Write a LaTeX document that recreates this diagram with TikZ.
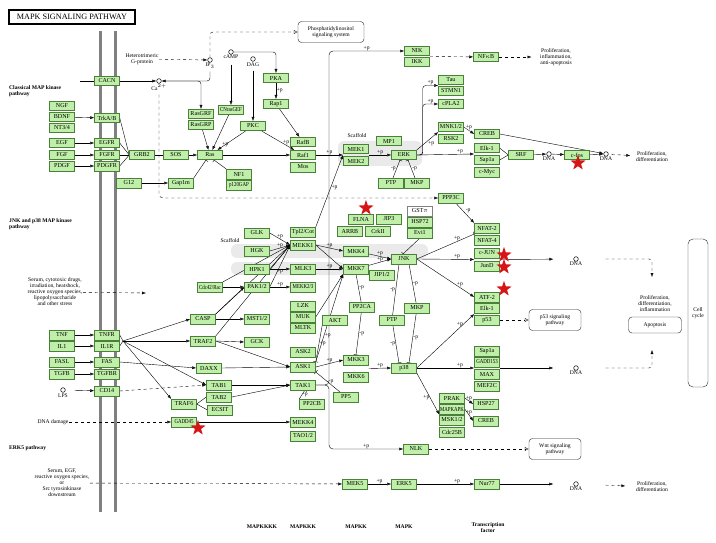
\documentclass[tikz,border=0pt]{standalone}
\usepackage{fontspec}
\setmainfont{Liberation Serif}
\usepackage{graphicx}
\usetikzlibrary{arrows.meta, calc, positioning, shapes.geometric}
\definecolor{GeneFill}{RGB}{191,239,168}
\definecolor{GeneLine}{RGB}{74,128,58}
\definecolor{MembraneGray}{RGB}{128,128,128}
\definecolor{ScaffoldGray}{RGB}{234,234,234}
\definecolor{StarRed}{RGB}{214,22,22}
\newcommand{\genefont}{\fontsize{6.1}{6.2}\selectfont}
\newcommand{\notefont}{\fontsize{5.6}{6}\selectfont}
\newcommand{\narrowtext}[1]{\scalebox{0.8}[1]{#1}}
\pgfdeclarelayer{back}
\pgfdeclarelayer{links}
\pgfsetlayers{back,links,main}
\tikzset{
  gene/.style={draw=GeneLine, fill=GeneFill, line width=0.5pt, minimum width=25pt, minimum height=9.5pt, inner sep=0pt, font=\genefont},
  cpd/.style={circle, draw, line width=0.6pt, inner sep=0pt, minimum size=4.6pt, label distance=0.5pt},
  txt/.style={font=\notefont, align=center, inner sep=0.5pt},
  sect/.style={font=\notefont\bfseries, align=left, anchor=west, inner sep=0pt},
  level/.style={font=\notefont\bfseries, align=center, inner sep=0pt},
  pbox/.style={draw, rounded corners=3.5pt, font=\notefont, align=center, inner sep=1pt},
  pl/.style={font=\notefont, inner sep=0.6pt},
  inh/.style={-{Bar[width=5pt]}},
  popen/.style={-{Latex[open, length=4pt, width=4pt]}},
  hit/.style={star, star points=5, star point ratio=2.5, fill=StarRed, inner sep=0pt, minimum size=16pt},
}

\begin{document}
\begin{tikzpicture}[x=1pt, y=-1pt, >={Latex[length=4pt, width=3pt]}, line width=0.55pt, draw=black!85]
  \useasboundingbox (0,0) rectangle (716,543);

  % Background, membrane and scaffolds
  \begin{pgfonlayer}{back}
    \fill[white] (0,0) rectangle (716,543);
    \draw[MembraneGray, line width=3pt] (100,31) -- (100,512);
    \draw[MembraneGray, line width=3pt] (115,31) -- (115,512);
    \fill[ScaffoldGray, rounded corners=6pt] (338,141) rectangle (422,166);
    \fill[ScaffoldGray, rounded corners=6pt] (231,244) rectangle (428,258);
    \fill[ScaffoldGray, rounded corners=6pt] (231,262) rectangle (345,275);
  \end{pgfonlayer}

  % Title and section labels
  \node[draw=black, line width=1.1pt, minimum width=126pt, minimum height=14pt, inner sep=0pt,
        font=\fontsize{8.2}{8.2}\selectfont] (title) at (72,17) {MAPK SIGNALING PATHWAY};
  \node[sect] (seccl) at (9,91) {Classical MAP kinase\\pathway};
  \node[sect] (secjnk) at (9,224) {JNK and p38 MAP kinase\\pathway};
  \node[sect] (secerk) at (9,448) {ERK5 pathway};

  % Classical MAP kinase pathway
  \node[gene] (cacn) at (107,81) {CACN};
  \node[gene] (ngf) at (62,106) {NGF};
  \node[gene] (bdnf) at (62,117) {BDNF};
  \node[gene] (ntf) at (62,128) {NT3/4};
  \node[gene] (egf) at (62,143) {EGF};
  \node[gene] (fgf) at (62,155) {FGF};
  \node[gene] (pdgf) at (62,166) {PDGF};
  \node[gene] (trk) at (107,118) {TrkA/B};
  \node[gene] (egfr) at (107,143) {EGFR};
  \node[gene] (fgfr) at (107,155) {FGFR};
  \node[gene] (pdgfr) at (107,166) {PDGFR};
  \node[gene] (grb2) at (142,155) {GRB2};
  \node[gene] (sos) at (176,155) {SOS};
  \node[gene] (ras) at (210,155) {Ras};
  \node[gene] (g12) at (129,183) {G12};
  \node[gene] (gap1m) at (181,183) {Gap1m};
  \node[gene] (rasgrf) at (201,114) {RasGRF};
  \node[gene] (rasgrp) at (201,125) {RasGRP};
  \node[gene] (cnras) at (231,110) {\narrowtext{CNrasGEF}};
  \node[gene] (nf1) at (239,174) {NF1};
  \node[gene] (p120) at (239,185) {\narrowtext{p120GAP}};
  \node[gene] (pkc) at (253,126) {PKC};
  \node[gene] (pka) at (276,78) {PKA};
  \node[gene] (rap1) at (276,104) {Rap1};
  \node[gene] (rafb) at (303,142) {RafB};
  \node[gene] (raf1) at (303,155) {Raf1};
  \node[gene] (mos) at (303,167) {Mos};
  \node[txt] (scafa) at (357,136) {Scaffold};
  \node[gene] (mek1) at (356,149) {MEK1};
  \node[gene] (mek2) at (356,161) {MEK2};
  \node[gene] (mp1) at (389,141) {MP1};
  \node[gene] (erk) at (404,155) {ERK};
  \node[gene] (ptpa) at (391,183) {PTP};
  \node[gene] (mkpa) at (417,183) {MKP};
  \node[gene] (nik) at (417,51) {NIK};
  \node[gene] (ikk) at (417,62) {IKK};
  \node[gene] (nfkb) at (486,57) {NF$\kappa$B};
  \node[gene] (tau) at (451,80) {Tau};
  \node[gene] (stmn1) at (451,91) {STMN1};
  \node[gene] (cpla2) at (451,104) {cPLA2};
  \node[gene] (mnk) at (451,127) {MNK1/2};
  \node[gene] (rsk2) at (451,139) {RSK2};
  \node[gene] (creba) at (487,134) {CREB};
  \node[gene] (elka) at (487,148) {Elk-1};
  \node[gene] (sap1a) at (487,160) {Sap1a};
  \node[gene] (cmyc) at (487,172) {c-Myc};
  \node[gene] (srf) at (521,155) {SRF};
  \node[gene] (cfos) at (577,155) {c-fos};

  \node[cpd, label={[txt]below:IP$_3$}] (ip3) at (210,60) {};
  \node[cpd, label={[txt]below:cAMP}] (camp) at (231,52) {};
  \node[cpd, label={[txt]below:DAG}] (dag) at (253,59) {};
  \node[cpd, label={[txt]below:Ca$^{2+}$}] (ca) at (159,81) {};
  \node[cpd, label={[txt]below:DNA}] (dnaa) at (549,154) {};
  \node[cpd, label={[txt]below:DNA}] (dnab) at (606,154) {};
  \node[txt] (hetero) at (142,59) {Heterotrimeric\\G-protein};
  \node[pbox, minimum width=66pt, minimum height=21pt] (pis) at (331,32) {Phosphatidylinositol\\signaling system};
  \node[txt] (outa) at (556,57) {Proliferation,\\inflammation,\\anti-apoptosis};
  \node[txt] (outb) at (652,157) {Proliferation,\\differentiation};
  \coordinate (caIn) at (80,81);
  \coordinate (mekIn) at (343,155);
  \coordinate (mekOut) at (369,155);
  \coordinate (vbar) at (329,0);

  % JNK and p38 MAP kinase pathway
  \node[txt] (stress) at (55,292) {Serum, cytotoxic drugs,\\irradiation, heatshock,\\reactive oxygen species,\\lipopolysaccharide\\and other stress};
  \coordinate (stressEnd) at (146,293);
  \node[gene] (tnf) at (62,335) {TNF};
  \node[gene] (il1) at (62,346) {IL1};
  \node[gene] (fasl) at (62,362) {FASL};
  \node[gene] (tgfb) at (62,374) {TGFB};
  \node[gene] (tnfr) at (107,335) {TNFR};
  \node[gene] (il1r) at (107,346) {IL1R};
  \node[gene] (fas) at (107,362) {FAS};
  \node[gene] (tgfbr) at (107,374) {TGFBR};
  \node[gene] (cd14) at (107,391) {CD14};
  \node[cpd, label={[txt]below:LPS}] (lps) at (63,390) {};
  \node[txt] (dnadmg) at (53,422) {DNA damage};
  \coordinate (hub) at (123,341);

  \node[txt] (scafb) at (230,241) {Scaffold};
  \node[gene] (glk) at (257,233) {GLK};
  \node[gene] (hgk) at (257,251) {HGK};
  \node[gene] (hpk1) at (257,269) {HPK1};
  \node[gene] (pak) at (257,287) {PAK1/2};
  \node[gene] (cdc42) at (210,287) {\narrowtext{Cdc42/Rac}};
  \node[gene] (casp) at (203,319) {CASP};
  \node[gene] (mst) at (257,319) {MST1/2};
  \node[gene] (traf2) at (203,341) {TRAF2};
  \node[gene] (gck) at (257,342) {GCK};
  \node[gene] (daxx) at (209,368) {DAXX};
  \node[gene] (tab1) at (219,385) {TAB1};
  \node[gene] (tab2) at (219,397) {TAB2};
  \node[gene] (ecsit) at (220,410) {ECSIT};
  \node[gene] (traf6) at (184,404) {TRAF6};
  \node[gene] (gadd45) at (184,422) {\narrowtext{GADD45}};
  \node[gene] (tpl2) at (303,232) {Tpl2/Cot};
  \node[gene] (mekk1) at (303,245) {MEKK1};
  \node[gene] (mlk3) at (303,269) {MLK3};
  \node[gene] (mekk23) at (303,287) {\narrowtext{MEKK2/3}};
  \node[gene] (lzk) at (303,306) {LZK};
  \node[gene] (muk) at (303,317) {MUK};
  \node[gene] (mltk) at (303,328) {MLTK};
  \node[gene] (ask2) at (303,352) {ASK2};
  \node[gene] (ask1) at (303,367) {ASK1};
  \node[gene] (tak1) at (303,385) {TAK1};
  \node[gene] (pp2cb) at (312,404) {PP2CB};
  \node[gene] (mekk4) at (303,422) {MEKK4};
  \node[gene] (tao) at (303,436) {TAO1/2};
  \node[gene] (mkk4) at (356,251) {MKK4};
  \node[gene] (mkk7) at (356,269) {MKK7};
  \node[gene] (jip12) at (382,275) {JIP1/2};
  \node[gene] (flna) at (361,219) {FLNA};
  \node[gene] (jip3) at (389,219) {JIP3};
  \node[gene] (arrb) at (350,231) {ARRB};
  \node[gene] (crkii) at (378,231) {CrkII};
  \node[gene, fill=white, draw=gray] (gstp) at (420,211) {GST$\pi$};
  \node[gene] (hsp72) at (420,222) {HSP72};
  \node[gene] (evi1) at (420,233) {Evi1};
  \node[gene] (jnk) at (404,259) {JNK};
  \node[gene] (pp2ca) at (362,307) {PP2CA};
  \node[gene] (akt) at (335,320) {AKT};
  \node[gene] (ptpb) at (392,320) {PTP};
  \node[gene] (mkpb) at (417,308) {MKP};
  \node[gene] (mkk3) at (356,360) {MKK3};
  \node[gene] (mkk6) at (356,377) {MKK6};
  \node[gene] (pp5) at (346,397) {PP5};
  \node[gene] (p38) at (404,368) {p38};
  \node[gene] (ppp3c) at (451,198) {PPP3C};
  \node[gene] (nfat2) at (487,228) {NFAT-2};
  \node[gene] (nfat4) at (487,240) {NFAT-4};
  \node[gene] (cjun) at (487,253) {c-JUN};
  \node[gene] (jund) at (487,266) {JunD};
  \node[gene] (atf2) at (487,297) {ATF-2};
  \node[gene] (elkb) at (487,308) {Elk-1};
  \node[gene] (p53) at (487,320) {p53};
  \node[gene] (sap1b) at (487,351) {Sap1a};
  \node[gene] (gadd153) at (487,362) {\narrowtext{GADD153}};
  \node[gene] (max) at (487,374) {MAX};
  \node[gene] (mef2c) at (487,386) {MEF2C};
  \node[gene] (prak) at (452,398) {PRAK};
  \node[gene] (mapkapk) at (452,409) {\narrowtext{MAPKAPK}};
  \node[gene] (msk) at (452,420) {MSK1/2};
  \node[gene] (cdc25b) at (452,432) {Cdc25B};
  \node[gene] (hsp27) at (486,404) {HSP27};
  \node[gene] (crebb) at (486,421) {CREB};
  \node[gene] (nlk) at (416,449) {NLK};

  \node[cpd, label={[txt]below:DNA}] (dnac) at (576,259) {};
  \node[cpd, label={[txt]below:DNA}] (dnad) at (576,368) {};
  \node[pbox, minimum width=52pt, minimum height=21pt] (p53path) at (555,320) {p53 signaling\\pathway};
  \node[pbox, minimum width=52pt, minimum height=21pt] (wntpath) at (555,449) {Wnt signaling\\pathway};
  \node[txt] (outc) at (655,304) {Proliferation,\\differentiation,\\inflammation};
  \node[pbox, minimum width=53pt, minimum height=16pt] (apop) at (655,325) {Apoptosis};
  \node[pbox, rounded corners=5pt, minimum width=20pt, minimum height=148pt] (cellcyc) at (698,313) {Cell\\cycle};
  \coordinate (apoTop) at (652,277);
  \coordinate (apoBot) at (652,350);

  % ERK5 pathway
  \node[txt] (serum) at (62,483) {Serum, EGF,\\reactive oxygen species,\\or\\Src tyrosinkinase\\downstream};
  \node[gene] (mek5) at (355,484) {MEK5};
  \node[gene] (erk5) at (404,484) {ERK5};
  \node[gene] (nur77) at (487,484) {Nur77};
  \node[cpd, label={[txt]below:DNA}] (dnae) at (576,484) {};
  \node[txt] (outd) at (652,487) {Proliferation,\\differentiation};

  % Kinase levels
  \node[level] (lvla) at (262,527) {MAPKKKK};
  \node[level] (lvlb) at (303,527) {MAPKKK};
  \node[level] (lvlc) at (356,527) {MAPKK};
  \node[level] (lvld) at (404,527) {MAPK};
  \node[level] (lvle) at (488,528) {Transcription\\factor};

  % Hits
  \node[hit] (hitfos) at (578,163) {};
  \node[hit] (hitflna) at (366,208) {};
  \node[hit] (hitjun) at (504,255) {};
  \node[hit] (hitjund) at (504,267) {};
  \node[hit] (hitatf) at (504,289) {};
  \node[hit] (hitgadd) at (198,428) {};

  \begin{pgfonlayer}{links}
    % Second messengers
    \draw (caIn) -- (cacn);
    \draw[->] (cacn) -- (ca);
    \draw[->, dashed] (hetero) -- (ip3);
    \draw[popen, dashed, rounded corners=3pt] (ip3) |- (pis);
    \draw[->, rounded corners=3pt, shorten <=9pt] (ip3) |- (ca);
    \draw[->, rounded corners=3pt] (ca) -| (rasgrf);
    \draw[->, dashed, rounded corners=4pt, shorten <=11pt] (ca) |- (ppp3c);
    \draw[->, shorten <=10pt] (camp) -- (cnras);
    \draw[->, rounded corners=3pt] (camp) -| (pka);
    \draw[->, shorten <=9pt] (dag) -- (pkc);

    % Receptors to Ras
    \draw[->] (bdnf) -- (trk);
    \draw[->] (egf) -- (egfr);
    \draw[->] (fgf) -- (fgfr);
    \draw[->] (pdgf) -- (pdgfr);
    \draw (trk.east) -- (grb2.west);
    \draw (egfr.east) -- (grb2.west);
    \draw (fgfr.east) -- (grb2.west);
    \draw (pdgfr.east) -- (grb2.west);
    \draw (grb2) -- (sos);
    \draw[->] (sos) -- (ras);
    \draw[->] (g12) -- (gap1m);
    \draw[inh] (gap1m.north east) -- ([xshift=-4pt]ras.south);
    \draw[inh] (nf1.north west) -- ([xshift=4pt]ras.south);
    \draw[->] (rasgrp) -- (ras);
    \draw[->] (cnras) -- (ras);
    \draw[->] (pkc) -- node[pl, pos=0.85, above right]{+p} (ras);
    \draw[->] (pkc) -- node[pl, pos=0.75, above]{+p} (raf1);
    \draw[->] (ras) -- (raf1);
    \draw[->] (pka) -- node[pl, right]{+p} (rap1);
    \draw[->] (rap1) -- (rafb);

    % Raf to ERK
    \draw[->] (raf1) -- node[pl, above]{+p} (mekIn);
    \draw[->] (tpl2.north east) -- node[pl, pos=0.55, right]{+p} (mekIn);
    \draw[->] (mekOut) -- node[pl, above]{+p} (erk);
    \draw[inh] (ptpa) -- node[pl, left]{-p} ([xshift=-4pt]erk.south);
    \draw[inh] (mkpa) -- node[pl, right]{-p} ([xshift=4pt]erk.south);
    \draw[->, rounded corners=3pt] (erk.east) -- ++(6,0) |- node[pl, pos=0.75, above]{+p} ($(tau.west)!.5!(stmn1.west)$);
    \draw[->, rounded corners=3pt] (erk.east) -- ++(6,0) |- node[pl, pos=0.75, above]{+p} (cpla2.west);
    \draw[->] (erk.north east) -- node[pl, below right]{+p} (mnk.south west);
    \draw[->] (mnk.east) -- node[pl, above]{+p} (creba.west);
    \draw[->] (erk.east) -- node[pl, pos=0.75, above]{+p} ($(elka.west)!.5!(sap1a.west)$);
    \draw (elka.east) -- (srf.west);
    \draw (sap1a.east) -- (srf.west);
    \draw[->] (srf) -- (dnaa);
    \draw[->] (dnaa) -- (cfos);
    \draw[->] (cfos) -- (dnab);
    \draw[->] (creba.east) -- (dnab);
    \draw[->, dashed, shorten <=3pt, shorten >=5pt] (dnab) -- (outb);
    \draw[->, dashed] ($(nik.east)!.5!(ikk.east)$) -- (nfkb);
    \draw[->, dashed, shorten >=8pt] (nfkb) -- (outa);

    % TAK1 to NIK and NLK
    \draw[->, rounded corners=4pt] (tak1.east) -| (vbar |- nik.west) -- node[pl, above]{+p} (nik.west);
    \draw[->, rounded corners=4pt] (tak1.east) -| (vbar |- nlk.west) -- node[pl, above]{+p} (nlk.west);

    % Stress and receptors
    \draw[->, dashed] (stress) -- (stressEnd);
    \draw[->] (tnf) -- (tnfr);
    \draw[->] (il1) -- (il1r);
    \draw[->] (fasl) -- (fas);
    \draw[->] (tgfb) -- (tgfbr);
    \draw[->, shorten <=9pt] (lps) -- (cd14);
    \draw (tnfr.east) -- (hub);
    \draw (il1r.east) -- (hub);
    \draw[->] (hub) -- (casp.west);
    \draw[->] (hub) -- (traf2.west);
    \draw[->] (hub) -- (tab1.west);
    \draw[->] (hub) -- (traf6.north west);
    \draw[->] (fas.east) -- (daxx.west);
    \draw[->, dashed] (cd14.east) -- (tab1.west);
    \draw[->, dashed] (dnadmg) -- (gadd45);
    \draw[->] (gadd45) -- (mekk4);
    \draw (traf6.east) -- (tab2.west);
    \draw (traf6.east) -- (ecsit.west);
    \draw[->] (tab1) -- (tak1);
    \draw[->] (tab2.east) -- (tak1.west);
    \draw[->] (daxx.east) -- (ask1.west);
    \draw[->] (traf2.east) -- (ask1.west);
    \draw[->] (traf2.east) -- (gck.west);
    \draw[->] (casp) -- (mst);
    \draw[->] (casp.north east) -- (pak.west);
    \draw[->] (casp.north east) -- (mekk1.west);
    \draw[->] (traf2.north east) -- (mekk1.west);
    \draw[->] (cdc42) -- (pak);
    \draw[->] (cdc42.north east) -- (mekk1.west);

    % MAPKKK to MAPKK
    \draw[->] (glk.east) -- node[pl, above]{+p} (mekk1.west);
    \draw[->] (hgk.east) -- node[pl, above]{+p} (mekk1.west);
    \draw[->] (hpk1.east) -- (mekk1.west);
    \draw[->] (pak.east) -- (mekk1.west);
    \draw[->] (hpk1) -- node[pl, below]{+p} (mlk3);
    \draw[->] (pak) -- node[pl, above]{+p} (mekk23);
    \draw[->] (mekk1.east) -- node[pl, above]{+p} (mkk4.west);
    \draw[->] (mekk1.east) -- (mkk7.west);
    \draw[->] (mlk3) -- node[pl, above]{+p} (mkk7);
    \draw[->] (muk.east) -- (mkk7.south west);
    \draw[->] (ask1.north east) -- node[pl, pos=0.3, right]{+p} (mkk7.south west);
    \draw[->] (ask1.east) -- node[pl, above]{+p} (mkk3.west);
    \draw[inh] (akt.south west) -- node[pl, right]{+p} (ask1.north east);
    \draw[inh] (pp5) -- node[pl, right]{-p} (ask1.south east);
    \draw[inh] (pp2cb.north west) -- node[pl, right]{-p} ([xshift=2pt]tak1.south);

    % MAPKK to MAPK
    \draw[->] (mkk4) -- node[pl, above]{+p} (jnk.west);
    \draw[->] (mkk7) -- node[pl, above]{+p} (jnk.west);
    \draw[inh] (evi1.south) -- ([xshift=-1pt]jnk.north);
    \draw[inh] (pp2ca) -- node[pl, right]{-p} (mkk7.south);
    \draw[inh] (pp2ca) -- node[pl, right]{-p} (mkk3.north);
    \draw[inh] (ptpb) -- node[pl, left]{-p} ([xshift=-5pt]jnk.south);
    \draw[inh] (mkpb) -- node[pl, right]{-p} ([xshift=5pt]jnk.south);
    \draw[inh] (ptpb) -- node[pl, left]{-p} ([xshift=-5pt]p38.north);
    \draw[inh] (mkpb) -- node[pl, right]{-p} ([xshift=5pt]p38.north);
    \draw[->] ($(mkk3.east)!.5!(mkk6.east)$) -- node[pl, above]{+p} (p38.west);

    % MAPK to transcription factors
    \draw[->] (ppp3c) -- node[pl, above right]{-p} (nfat2.north west);
    \draw[inh] (jnk.east) -- node[pl, above, pos=0.7]{+p} ($(nfat2.west)!.5!(nfat4.west)$);
    \draw[->] (jnk.east) -- node[pl, above, pos=0.7]{+p} ($(cjun.west)!.5!(jund.west)$);
    \draw[->] (jnk.east) -- node[pl, above, pos=0.75]{+p} (atf2.west);
    \draw[->] (p38.east) -- node[pl, above, pos=0.75]{+p} ($(elkb.west)!.5!(p53.west)$);
    \draw[->] (p38.east) -- node[pl, above, pos=0.75]{+p} ($(gadd153.west)!.5!(max.west)$);
    \draw[->] (p38.south east) -- node[pl, left, pos=0.6]{+p} ($(mapkapk.west)!.5!(msk.west)$);
    \draw[->] (prak.east) -- node[pl, above]{+p} (hsp27.west);
    \draw[->] (mapkapk.east) -- node[pl, above]{+p} (crebb.west);
    \draw[->, shorten >=20pt] ($(cjun.east)!.5!(jund.east)$) -- (dnac);
    \draw[->, shorten >=20pt] ($(gadd153.east)!.5!(max.east)$) -- (dnad);
    \draw[->, dashed, rounded corners=3pt, shorten <=27pt] (dnac) -| (apoTop);
    \draw[->, dashed, rounded corners=3pt, shorten <=27pt] (dnad) -| (apoBot);
    \draw[popen, dashed] (p53.east) -- (p53path.west);
    \draw[popen, dashed] (nlk.east) -- (wntpath.west);

    % ERK5
    \draw[->, dashed] (serum) -- (mek5);
    \draw[->] (mek5) -- node[pl, above]{+p} (erk5);
    \draw[->] (erk5) -- node[pl, above, pos=0.7]{+p} (nur77);
    \draw[->, shorten >=20pt] (nur77) -- (dnae);
    \draw[->, dashed, shorten <=27pt, shorten >=10pt] (dnae) -- (outd);
  \end{pgfonlayer}
\end{tikzpicture}
\end{document}
